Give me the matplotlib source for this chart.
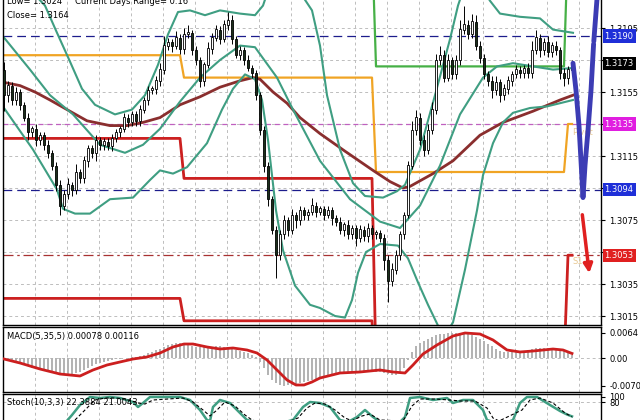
import numpy as np
import matplotlib.pyplot as plt

# ---- price data (M30 candles) ----
closes = [1.3153,1.3159,1.3150,1.3155,1.3147,1.3139,1.3130,1.3132,1.3125,1.3128,
          1.3122,1.3117,1.3109,1.3097,1.3084,1.3091,1.3097,1.3094,1.3105,1.3101,
          1.3112,1.3120,1.3117,1.3125,1.3122,1.3124,1.3121,1.3126,1.3130,1.3132,
          1.3139,1.3136,1.3141,1.3137,1.3144,1.3150,1.3156,1.3157,1.3162,1.3169,
          1.3184,1.3186,1.3184,1.3189,1.3182,1.3191,1.3192,1.3181,1.3175,1.3162,
          1.3172,1.3182,1.3189,1.3194,1.3188,1.3197,1.3200,1.3188,1.3178,1.3181,
          1.3175,1.3170,1.3167,1.3153,1.3131,1.3109,1.3088,1.3069,1.3053,1.3066,
          1.3075,1.3069,1.3078,1.3075,1.3081,1.3078,1.3080,1.3084,1.3080,1.3082,
          1.3078,1.3081,1.3076,1.3074,1.3069,1.3072,1.3066,1.3070,1.3064,1.3069,
          1.3065,1.3070,1.3066,1.3067,1.3064,1.3050,1.3037,1.3044,1.3053,1.3066,
          1.3078,1.3109,1.3131,1.3139,1.3125,1.3119,1.3131,1.3144,1.3175,1.3178,
          1.3164,1.3175,1.3166,1.3175,1.3194,1.3197,1.3191,1.3199,1.3184,1.3176,
          1.3166,1.3162,1.3156,1.3161,1.3153,1.3157,1.3162,1.3166,1.3169,1.3167,
          1.3170,1.3167,1.3181,1.3189,1.3181,1.3186,1.3180,1.3184,1.3181,1.3167,
          1.3164,1.3169,1.3173]
first_open = 1.3169
up_wick = [5,3,2,3,2,2,3,2,3,2, 2,3,2,2,3,3,4,2,5,2, 3,2,2,3,2,2,2,3,2,2,
           3,2,2,2,3,2,3,2,3,4, 6,3,2,4,2,4,5,2,3,2, 2,4,3,3,2,3,5,3,2,3,
           2,3,2,2,2,3,2,2,2,3, 3,2,4,2,3,2,2,5,2,2, 2,3,2,2,3,2,3,2,2,3,
           2,3,2,2,2,2,3,4,3,2, 2,3,6,5,3,3,4,5,4,6, 3,4,2,3,6,12,3,5,4,3,
           3,2,3,4,2,3,3,2,3,2, 2,3,6,5,2,3,4,2,3,2, 3,2,2]
dn_wick = [10,4,3,3,3,2,5,3,4,3, 3,3,3,4,6,3,3,4,3,3, 3,4,3,5,3,3,2,3,2,3,
           2,3,2,3,3,2,3,2,3,3, 3,3,4,2,3,3,2,3,3,4, 3,2,3,2,3,2,3,3,2,3,
           3,2,3,3,3,4,4,3,14,3, 3,4,3,5,3,3,3,2,3,2, 3,2,4,3,3,4,3,3,5,3,
           3,4,3,3,3,6,13,3,3,3, 3,2,2,3,3,4,3,2,3,3, 3,2,3,3,3,3,3,2,3,3,
           3,3,5,3,4,3,3,3,2,3, 3,3,3,2,4,3,3,3,3,4, 5,4,3]

# ---- indicator traces (bar index, price) ----
bb_mid_x = [0,6.5,11.5,17.25,24,30.25,34.75,39,44,49,54,59,62.75,68.25,72.25,79,86.5,94,99,104,109,114,119.75,123.25,127.25,132.25,137.25,142.25]
bb_mid_y = [1.3189,1.3169,1.3153,1.3141,1.3122,1.3117,1.3122,1.3132,1.3149,1.3164,1.3175,1.3184,1.3183,1.3164,1.3144,1.3112,1.3088,1.3074,1.3070,1.3084,1.3109,1.3141,1.3164,1.3171,1.3173,1.3171,1.3169,1.3170]
bb_up_x = [6.5,10.25,13.25,16.5,19.5,22.75,27.75,32,35.25,38.5,41,43.5,46.5,50.25,54,59,62.75,64.75,66.5,72.75,77,79,80.75,84,87.25,90.25,94.75,98.25,100.25,104,107.75,111.5,113.5,115.25,119,121.5,124,129,134,137.25,142.25]
bb_up_y = [1.3219,1.3209,1.3192,1.3174,1.3157,1.3147,1.3141,1.3144,1.3153,1.3172,1.3191,1.3205,1.3206,1.3203,1.3206,1.3204,1.3203,1.3209,1.3222,1.3222,1.3206,1.3184,1.3153,1.3119,1.3098,1.3090,1.3089,1.3093,1.3097,1.3119,1.3153,1.3188,1.3209,1.3222,1.3222,1.3212,1.3204,1.3202,1.3201,1.3194,1.3192]
bb_lo_x = [0,7.25,13.25,14.75,17.75,21.5,26.5,32.25,36.5,39,42.25,45.75,50.75,54.5,57.25,60.25,62.75,64.5,66,68,69.75,72.75,76.5,
           79,82.75,85.25,87,88.5,90.5,94,98.5,101,103.5,106,108.5,110.5,112.25,115.25,118.25,119.75,122.25,124.75,127.25,131.5,135.75,139,142.25]
bb_lo_y = [1.3145,1.3119,1.3094,1.3082,1.3079,1.3079,1.3088,1.3089,1.3100,1.3106,1.3104,1.3108,1.3123,1.3144,1.3157,1.3166,1.3163,1.3150,1.3125,1.3081,1.3056,1.3034,1.3022,
           1.3020,1.3015,1.3014,1.3025,1.3042,1.3055,1.3060,1.3059,1.3051,1.3036,1.3022,1.3009,1.3004,1.3011,1.3044,1.3081,1.3103,1.3123,1.3136,1.3142,1.3145,1.3146,1.3148,1.3150]
ma_x = [0,4,7.75,11.5,15.75,20.75,26.5,30.75,34.75,39,44,49,54,59,62.25,64,67.25,70.75,74,79,85.25,92.25,96.5,99.75,101.5,107.25,112.25,119,124.75,132.25,139,142.25]
ma_y = [1.3161,1.3159,1.3155,1.3150,1.3144,1.3137,1.3134,1.3134,1.3136,1.3139,1.3147,1.3152,1.3158,1.3162,1.3164,1.3163,1.3155,1.3148,1.3139,1.3129,1.3118,1.3106,1.3099,1.3095,1.3096,1.3104,1.3112,1.3128,1.3136,1.3143,1.3150,1.3153]

# daily pivot levels
day_starts = [0, 45, 93, 141]
pivot_lv = [1.3178, 1.3164, 1.3105, 1.3135]
s1_lv = [1.3126, 1.3101, 1.2985, 1.3053]
s2_lv = [1.3026, 1.3012, 1.2960, 1.2990]
r1_lv = [1.3250, 1.3250, 1.3171, 1.3250]

# marked levels
levels = [1.3190, 1.3094, 1.3135, 1.3053]
level_colors = ['#1c1c8c', '#1c1c8c', '#c060c0', '#a83232']
box_labels = [('1.3190', '#1f2fd8'), ('1.3173', '#000000'), ('1.3135', '#e01ee0'),
              ('1.3094', '#1f2fd8'), ('1.3053', '#e02020')]
box_prices = [1.3190, 1.3173, 1.3135, 1.3094, 1.3053]

# forecast arrows
blue_x = [142.25, 143, 143.75, 144.25, 144.75, 145.25, 146, 146.75, 147.4]
blue_y = [1.3173, 1.3156, 1.3134, 1.3112, 1.3089, 1.3109, 1.3131, 1.3156, 1.3185]
red_x = [144.5, 146.4]
red_y = [1.3080, 1.3040]

# MACD
macd_main = [-0.00051,-0.00077,-0.00102,-0.00128,-0.00154,-0.00179,-0.00205,-0.00256,-0.00282,-0.00307,
             -0.00333,-0.00358,-0.00384,-0.0041,-0.00435,-0.00435,-0.00435,-0.0041,-0.00384,-0.00358,
             -0.00307,-0.00256,-0.00205,-0.00154,-0.00128,-0.00102,-0.00077,-0.00051,-0.00026,-0.00026,
             0.0,0.0,0.00026,0.00026,0.00051,0.00077,0.00128,0.00154,0.00205,0.0023,
             0.00282,0.00333,0.00358,0.00384,0.00384,0.00358,0.00333,0.00307,0.00282,0.00282,
             0.00282,0.00282,0.00282,0.00307,0.00307,0.00282,0.00282,0.00256,0.00205,0.00179,
             0.00154,0.00128,0.00077,0.00026,-0.00102,-0.00256,-0.00435,-0.00563,-0.0064,-0.00691,
             -0.00705,-0.0070,-0.00691,-0.00666,-0.0064,-0.00614,-0.00589,-0.00563,-0.00538,-0.00512,
             -0.00486,-0.00461,-0.00435,-0.0041,-0.0041,-0.00384,-0.00384,-0.00358,-0.00358,-0.00333,
             -0.00333,-0.00333,-0.00358,-0.00358,-0.00358,-0.00384,-0.0041,-0.00435,-0.00435,-0.00384,
             -0.00256,-0.00051,0.00154,0.00307,0.00384,0.00435,0.00486,0.00538,0.00589,0.00614,
             0.00614,0.0064,0.0064,0.0064,0.0064,0.0064,0.00614,0.00589,0.00538,0.00486,
             0.00435,0.00358,0.00307,0.0023,0.00179,0.00154,0.00154,0.00154,0.00154,0.00179,
             0.00179,0.00205,0.0023,0.00256,0.00256,0.00256,0.00256,0.0023,0.0023,0.00205,
             0.00179,0.00154,0.00078]
sig_x = [0,4,9,14,19,22.25,25.75,29,32.25,35.75,39,42.25,45,47.25,50.75,54,57.25,60.75,63.25,65.75,68.25,70.75,73,75,77,79,84,89,94,97.25,100.25,102.25,104.75,108.25,112.25,115.25,119,122.25,125.75,129,132.25,137.25,139.75,142]
sig_y = [-0.00026,-0.00128,-0.00282,-0.0041,-0.00461,-0.00307,-0.00179,-0.00102,-0.00026,0.00026,0.00128,0.00282,0.00358,0.00358,0.00282,0.0023,0.00256,0.00205,0.00128,-0.00051,-0.00307,-0.00563,-0.00691,-0.00691,-0.00614,-0.00512,-0.00384,-0.00358,-0.00307,-0.00358,-0.00384,-0.00179,0.00102,0.00333,0.00563,0.0064,0.00614,0.00461,0.00205,0.00154,0.00179,0.0023,0.00205,0.00116]

# Stochastic
st_x = [15.75,17,19,21.5,24,26.5,29,32.25,33.5,34.75,36.5,44,46.5,49,50.75,51.5,52.25,54,56.5,59,60.75,62.75,70.25,72.25,74.75,76.5,79,81.5,84,86,88.25,90.25,92.25,94,99,100.25,101.5,104,107.25,110.75,112.25,114.75,117.25,119.75,120.75,122.25,126,127.25,129,130.75,133.25,136.5,139,140.75,142]
st_y = [5,28,68,100,96,100,96,80,60,76,100,100,88,48,8,4,60,88,76,36,8,0,0,8,60,80,76,60,8,0,20,48,20,0,0,20,96,100,88,96,76,88,88,48,8,0,0,8,76,100,100,68,44,30,22.39]
sd_x = [17.75,20.25,22.75,25.25,27.75,30.25,33.5,35.25,37.25,44.75,47.25,49.75,51.5,53.25,55.25,57.75,60.25,62,64,71,73.5,75.75,77.75,80.25,82.75,85.25,87,89.5,91.5,94,99.75,102,104,107.75,111.5,114,117.75,120.75,122.25,124,127.25,129.5,131.5,134,137.25,140.25,142]
sd_y = [8,48,88,96,96,92,76,72,88,96,80,48,24,48,80,64,28,8,0,0,16,56,76,72,48,16,5,24,32,8,4,64,92,92,88,84,84,56,16,2,4,48,88,96,76,36,21.0]

teal = '#3f9e82'
grid_kw = dict(color='#bdbdbd', linestyle=(0, (3, 3)), linewidth=0.7)
FS = 6

fig = plt.figure(figsize=(6.4, 4.2), dpi=100)
L, W = 2.5 / 640, (601 - 2.5) / 640
ax = fig.add_axes([L, 1 - 325 / 420, W, 355 / 420])
axm = fig.add_axes([L, 1 - 392 / 420, W, 65 / 420])
axs = fig.add_axes([L, 1 - 425 / 420, W, 31 / 420])

vgrid = [7.75 + 8 * k for k in range(18)]
for a in (ax, axm, axs):
    a.set_xlim(-0.375, 149.25)
    a.set_xticks(vgrid)
    a.set_xticklabels([])
    a.tick_params(axis='x', length=0)
    a.grid(axis='x', **grid_kw)
    a.yaxis.tick_right()
    a.tick_params(axis='y', labelsize=FS, length=3, pad=3)
    for s in a.spines.values():
        s.set_linewidth(1)
    a.set_axisbelow(True)

# ---- main panel ----
ax.set_ylim(1.32125 - 325 / 16000, 1.32125 + 30 / 16000)
yt = [round(1.3015 + 0.002 * k, 4) for k in range(11)]
ax.set_yticks(yt)
shown = {1.3015, 1.3035, 1.3075, 1.3115, 1.3155, 1.3195}
ax.set_yticklabels([f'{v:.4f}' if v in shown else '' for v in yt])
ax.grid(axis='y', **grid_kw)

bars = np.arange(len(closes))

def steps(vals):
    out = np.empty(len(bars))
    for d, start in enumerate(day_starts):
        out[start:] = vals[d]
    return out

ax.plot(bars, steps(s2_lv), color='#cc2020', lw=2, zorder=2)
ax.plot(bars, steps(s1_lv), color='#cc2020', lw=2, zorder=2)
ax.plot(bars, steps(pivot_lv), color='#f0a424', lw=1.6, zorder=2)
ax.plot(bars, steps(r1_lv), color='#46b046', lw=1.6, zorder=2)

styles = {'#1c1c8c': (0, (7, 4)), '#c060c0': (0, (4, 3)), '#a83232': (0, (8, 3, 2, 3))}
for lv, col in zip(levels, level_colors):
    ax.axhline(lv, color=col, lw=0.9, linestyle=styles[col], zorder=1.5)

ax.plot(ma_x, ma_y, color='#8a2e2e', lw=2, zorder=2.5)
for xs, ys in ((bb_up_x, bb_up_y), (bb_mid_x, bb_mid_y), (bb_lo_x, bb_lo_y)):
    ax.plot(xs, ys, color=teal, lw=1.5, zorder=2.5)

# candles
o = np.array([first_open] + closes[:-1])
c = np.array(closes)
hi = np.maximum(o, c) + np.array(up_wick) * 1e-4
lo = np.minimum(o, c) - np.array(dn_wick) * 1e-4
ax.vlines(bars, lo, hi, color='black', lw=0.7, zorder=3)
bull = c >= o
ax.bar(bars[bull], (c - o)[bull] + 0.00002, bottom=o[bull], width=0.62,
       color='white', edgecolor='black', lw=0.6, zorder=3.5)
ax.bar(bars[~bull], (o - c)[~bull], bottom=c[~bull], width=0.62,
       color='#1b301b', edgecolor='black', lw=0.6, zorder=3.5)

# forecast arrows
ax.plot(blue_x, blue_y, color='#3c3cb4', lw=3.5, zorder=5, solid_capstyle='round')
ax.annotate('', xy=(148.7, 1.3228), xytext=(blue_x[-1], blue_y[-1]),
            arrowprops=dict(arrowstyle='-|>', color='#3c3cb4', lw=3.5, mutation_scale=14), zorder=5)
ax.annotate('', xy=(red_x[1], red_y[1]), xytext=(red_x[0], red_y[0]),
            arrowprops=dict(arrowstyle='-|>', color='#e02020', lw=2.5, mutation_scale=13), zorder=5)

ax.text(142.0, 1.3130, 'Pivot', color='#e8c890', fontsize=FS, va='center', zorder=4)
ax.text(142.2, 1.3049, 'S1', color='#e8c890', fontsize=FS, va='center', zorder=4)

for (txt, bg), p in zip(box_labels, box_prices):
    ax.text(1.006, p, txt, transform=ax.get_yaxis_transform(), color='white', fontsize=FS,
            va='center', ha='left', clip_on=False,
            bbox=dict(boxstyle='square,pad=0.25', fc=bg, ec='none'))

fig.text(7 / 640, 1 - 1 / 420, 'Low= 1.3024', fontsize=FS, va='center')
fig.text(75 / 640, 1 - 1 / 420, 'Current Days Range= 0.16', fontsize=FS, va='center')
fig.text(7 / 640, 1 - 15 / 420, 'Close= 1.3164', fontsize=FS, va='center')

# ---- MACD panel ----
axm.set_ylim(-0.008704, 0.007936)
axm.set_yticks([-0.00705, 0.0, 0.0064])
axm.set_yticklabels(['-0.00705', '0.00', '0.0064'])
axm.axhline(0, **grid_kw)
axm.bar(bars, macd_main, width=0.35, color='#b4b4b4', zorder=2)
axm.plot(sig_x, sig_y, color='#cc1f1f', lw=2, zorder=3)
fig.text(7 / 640, 1 - 337 / 420, 'MACD(5,35,5) 0.00078 0.00116', fontsize=FS, va='center')

# ---- Stochastic panel ----
axs.set_ylim(-12, 112)
axs.set_yticks([80, 100])
axs.set_yticklabels(['80', '100'])
axs.axhline(80, **grid_kw)
axs.plot(st_x, st_y, color=teal, lw=1.8, zorder=3)
axs.plot(sd_x, sd_y, color='black', lw=0.8, linestyle=(0, (3, 2)), zorder=3)
fig.text(7 / 640, 1 - 403 / 420, 'Stoch(10,3,3) 22.3884 21.0043', fontsize=FS, va='center')

fig.savefig('out.png', dpi=100)
